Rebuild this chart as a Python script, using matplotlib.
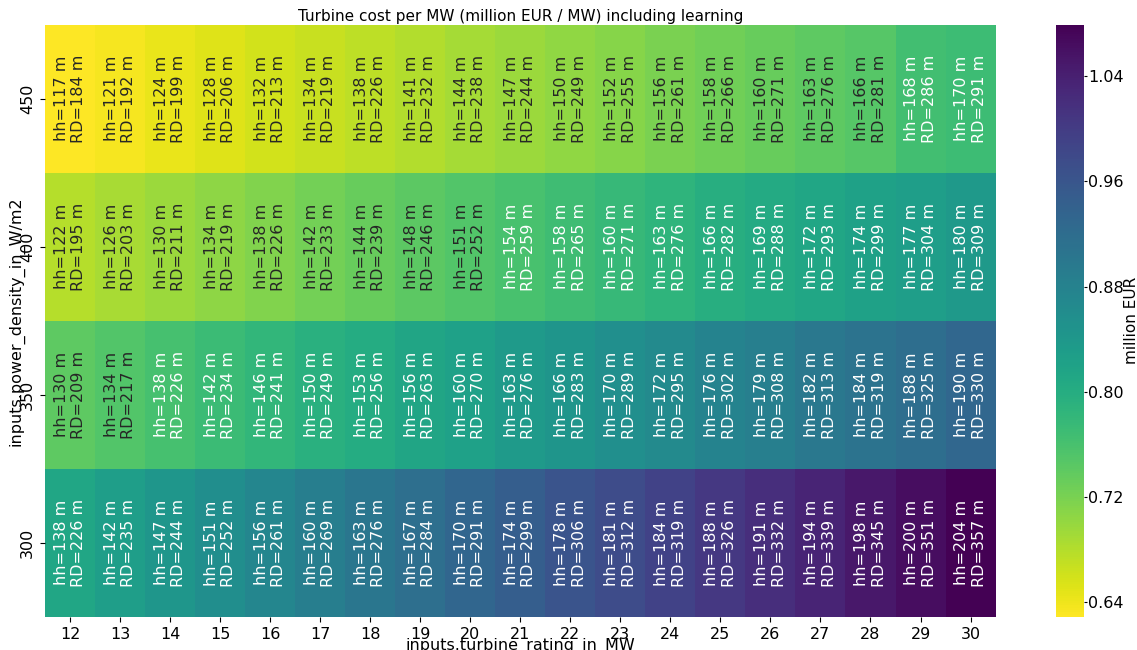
import numpy as np
import pandas as pd
import matplotlib
matplotlib.use("Agg")
import matplotlib.pyplot as plt
import seaborn as sns

ratings = [12, 13, 14, 15, 16, 17, 18, 19, 20, 21, 22, 23, 24, 25, 26, 27, 28, 29, 30]
densities = [450, 400, 350, 300]

# turbine cost per MW (million EUR / MW)
cost_450 = [0.629, 0.636, 0.644, 0.651, 0.659, 0.666, 0.674, 0.681, 0.689, 0.696,
            0.704, 0.711, 0.719, 0.726, 0.733, 0.740, 0.748, 0.765, 0.770]
cost_400 = [0.679, 0.688, 0.697, 0.706, 0.715, 0.724, 0.733, 0.742, 0.751, 0.760,
            0.769, 0.778, 0.787, 0.796, 0.805, 0.813, 0.821, 0.829, 0.837]
cost_350 = [0.741, 0.751, 0.761, 0.772, 0.782, 0.793, 0.803, 0.814, 0.824, 0.835,
            0.845, 0.856, 0.866, 0.877, 0.887, 0.898, 0.908, 0.919, 0.930]
cost_300 = [0.813, 0.828, 0.843, 0.858, 0.873, 0.888, 0.903, 0.917, 0.932, 0.947,
            0.962, 0.977, 0.991, 1.006, 1.020, 1.035, 1.050, 1.064, 1.079]

# hub height (m)
hh_450 = [117, 121, 124, 128, 132, 134, 138, 141, 144, 147, 150, 152, 156, 158, 160, 163, 166, 168, 170]
hh_400 = [122, 126, 130, 134, 138, 142, 144, 148, 151, 154, 158, 160, 163, 166, 169, 172, 174, 177, 180]
hh_350 = [130, 134, 138, 142, 146, 150, 153, 156, 160, 163, 166, 170, 172, 176, 179, 182, 184, 188, 190]
hh_300 = [138, 142, 147, 151, 156, 160, 163, 167, 170, 174, 178, 181, 184, 188, 191, 194, 198, 200, 204]

# rotor diameter (m)
rd_450 = [184, 192, 199, 206, 213, 219, 226, 232, 238, 244, 249, 255, 261, 266, 271, 276, 281, 286, 291]
rd_400 = [195, 203, 211, 219, 226, 233, 239, 246, 252, 259, 265, 271, 276, 282, 288, 293, 299, 304, 309]
rd_350 = [209, 217, 226, 234, 241, 249, 256, 263, 270, 276, 283, 289, 295, 302, 308, 313, 319, 325, 330]
rd_300 = [226, 235, 244, 252, 261, 269, 276, 284, 291, 299, 306, 312, 319, 326, 332, 339, 345, 351, 357]

cost = pd.DataFrame([cost_450, cost_400, cost_350, cost_300],
                    index=pd.Index(densities, name="inputs.power_density_in_W/m2"),
                    columns=pd.Index(ratings, name="inputs.turbine_rating_in_MW"))

hh = [hh_450, hh_400, hh_350, hh_300]
rd = [rd_450, rd_400, rd_350, rd_300]
labels = np.array([[f"hh={h} m\nRD={r} m" for h, r in zip(hrow, rrow)]
                   for hrow, rrow in zip(hh, rd)])

fig = plt.figure(figsize=(11.37, 6.5), dpi=100)
ax = fig.add_axes([0.0396, 0.051, 0.836, 0.911])
cax = fig.add_axes([0.9288, 0.051, 0.0246, 0.911])

sns.heatmap(cost, ax=ax, cbar_ax=cax, cmap="viridis_r", annot=labels, fmt="",
            annot_kws={"rotation": 90, "fontsize": 11.5},
            cbar_kws={"ticks": [0.64, 0.72, 0.80, 0.88, 0.96, 1.04]})

ax.set_title("Turbine cost per MW (million EUR / MW) including learning", fontsize=11, pad=3)
ax.tick_params(axis="both", labelsize=11.5)
ax.set_yticklabels(ax.get_yticklabels(), rotation=90, va="center")
ax.set_xticklabels(ax.get_xticklabels(), rotation=0)
ax.xaxis.label.set_size(11.5)
ax.yaxis.label.set_size(11.5)
ax.xaxis.labelpad = -3
ax.yaxis.labelpad = -3

cax.tick_params(labelsize=11.5, length=2, width=0.8, pad=1)
cax.set_ylabel("million EUR", fontsize=11, labelpad=0)

fig.savefig("out.png", dpi=100)
